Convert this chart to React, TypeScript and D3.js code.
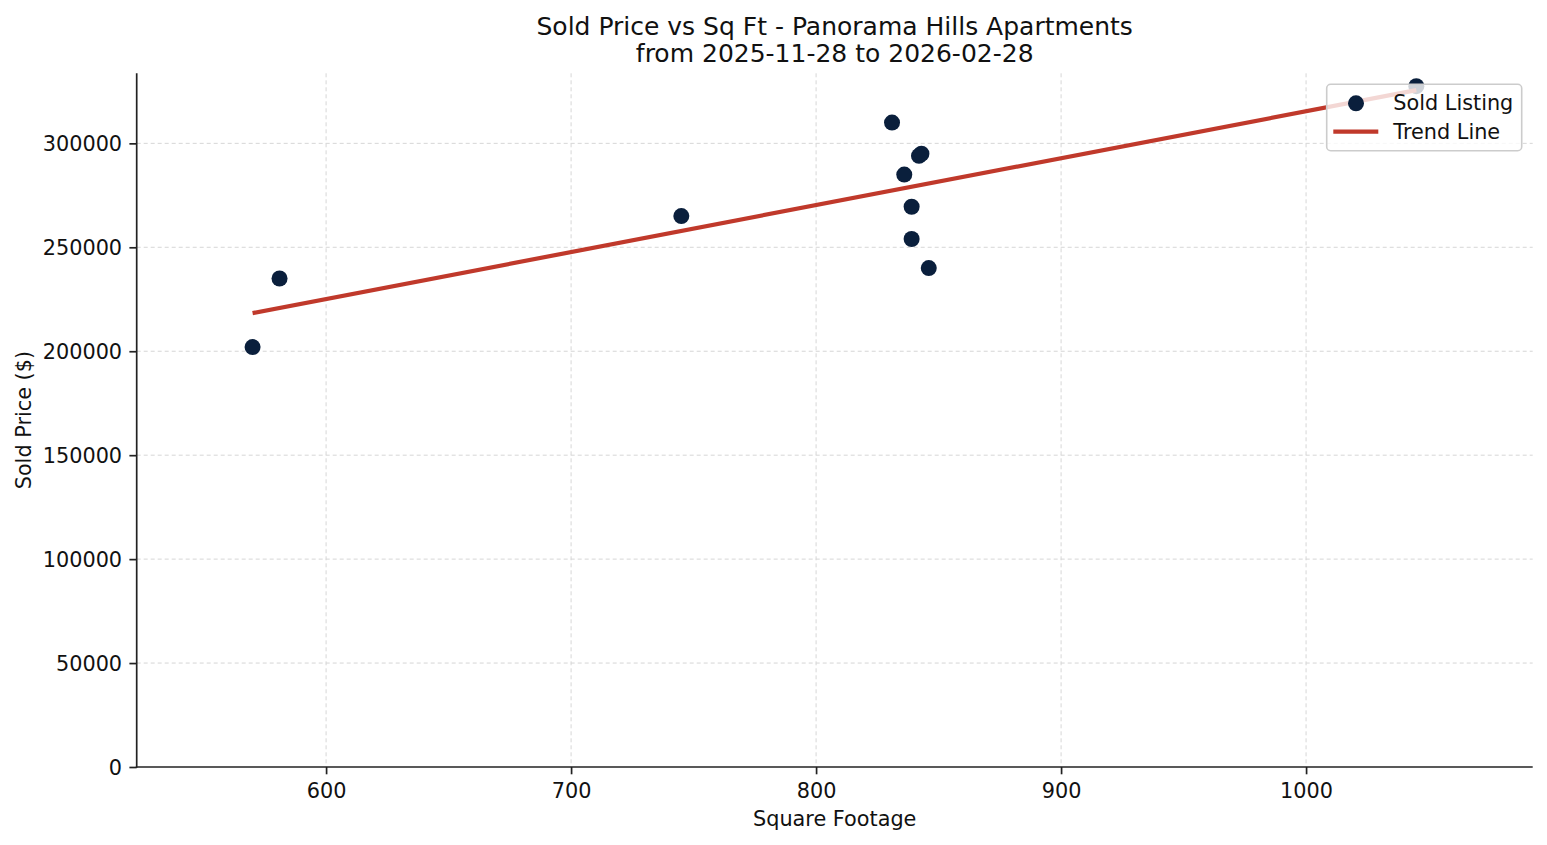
import React, { useEffect, useRef } from 'react';
import * as d3 from 'd3';

// sold listings
const sqft = [570, 581, 745, 831, 836, 839, 839, 842, 843, 846, 1045];
const price = [202000, 235000, 265000, 310000, 285000, 269500, 254000, 294000, 295000, 240000, 327500];

const xTicks = [600, 700, 800, 900, 1000];
const yTicks = [0, 50000, 100000, 150000, 200000, 250000, 300000];
const titleLines = ['Sold Price vs Sq Ft - Panorama Hills Apartments', 'from 2025-11-28 to 2026-02-28'];
const legendLabels = ['Sold Listing', 'Trend Line'];

const WIDTH = 1547;
const HEIGHT = 845;
const FONT = '"DejaVu Sans", sans-serif';
const FS = 20.8;
const NAVY = '#0a1f3c';
const RED = '#c0392b';

const App: React.FC = () => {
  const svgRef = useRef<SVGSVGElement>(null);

  useEffect(() => {
    if (!svgRef.current) return;
    const svg = d3.select(svgRef.current);
    svg.selectAll('*').remove();

    const left = 136.7, right = 1532.7, top = 73.3, bottom = 767;

    const x = d3.scaleLinear().domain([522.7, 1092.5]).range([left, right]);
    const y = d3.scaleLinear().domain([0, 333700]).range([bottom, top]);

    // grid
    const grid = svg.append('g');
    xTicks.forEach(t => {
      grid.append('line')
        .attr('x1', x(t)).attr('x2', x(t)).attr('y1', top).attr('y2', bottom)
        .attr('stroke', '#d6d6d6').attr('stroke-width', 1).attr('stroke-dasharray', '4,3');
    });
    yTicks.forEach(t => {
      if (t === 0) return;
      grid.append('line')
        .attr('x1', left).attr('x2', right).attr('y1', y(t)).attr('y2', y(t))
        .attr('stroke', '#d6d6d6').attr('stroke-width', 1).attr('stroke-dasharray', '4,3');
    });

    // points
    const pts = sqft.map((s, i) => ({ s, p: price[i] }));
    svg.append('g').selectAll('circle').data(pts).enter().append('circle')
      .attr('cx', d => x(d.s)).attr('cy', d => y(d.p)).attr('r', 8).attr('fill', NAVY);

    // least squares trend line
    const mx = d3.mean(sqft) as number;
    const my = d3.mean(price) as number;
    const slope = d3.sum(pts, d => (d.s - mx) * (d.p - my)) / d3.sum(pts, d => (d.s - mx) ** 2);
    const ext = d3.extent(sqft) as [number, number];
    const trend = ext.map(s => [s, my + slope * (s - mx)] as [number, number]);
    svg.append('path')
      .attr('d', d3.line<[number, number]>().x(d => x(d[0])).y(d => y(d[1]))(trend) as string)
      .attr('fill', 'none').attr('stroke', RED).attr('stroke-width', 4.2);

    // axes
    const xAxis = d3.axisBottom(x).tickValues(xTicks).tickSize(7.3).tickPadding(7.3).tickFormat(d3.format('d'));
    const yAxis = d3.axisLeft(y).tickValues(yTicks).tickSize(7.3).tickPadding(7.3).tickFormat(d3.format('d'));

    const gx = svg.append('g').attr('transform', `translate(0,${bottom})`).call(xAxis);
    const gy = svg.append('g').attr('transform', `translate(${left},0)`).call(yAxis);
    [gx, gy].forEach(g => {
      g.select('.domain').remove();
      g.selectAll('.tick line').attr('stroke', '#222').attr('stroke-width', 1.7);
      g.selectAll('.tick text').attr('fill', '#111').attr('font-family', FONT).attr('font-size', FS);
    });
    gx.selectAll('.tick text').attr('dy', null).attr('y', 30.5);
    gy.selectAll('.tick text').attr('dy', '0.36em');

    svg.append('line').attr('x1', left).attr('x2', left).attr('y1', top).attr('y2', bottom + 0.85)
      .attr('stroke', '#222').attr('stroke-width', 1.7);
    svg.append('line').attr('x1', left - 0.85).attr('x2', right).attr('y1', bottom).attr('y2', bottom)
      .attr('stroke', '#222').attr('stroke-width', 1.7);

    // labels
    svg.append('text').text('Square Footage')
      .attr('x', (left + right) / 2).attr('y', 826).attr('text-anchor', 'middle')
      .attr('font-family', FONT).attr('font-size', FS).attr('fill', '#111');
    svg.append('text').text('Sold Price ($)')
      .attr('transform', `translate(30.5,${(top + bottom) / 2}) rotate(-90)`).attr('text-anchor', 'middle')
      .attr('font-family', FONT).attr('font-size', FS).attr('fill', '#111');

    titleLines.forEach((t, i) => {
      svg.append('text').text(t)
        .attr('x', (left + right) / 2).attr('y', 34.7 + i * 27).attr('text-anchor', 'middle')
        .attr('font-family', FONT).attr('font-size', 25).attr('fill', '#111');
    });

    // legend
    const lg = svg.append('g');
    lg.append('rect')
      .attr('x', 1326.7).attr('y', 84.3).attr('width', 195).attr('height', 66.4).attr('rx', 4)
      .attr('fill', 'white').attr('fill-opacity', 0.8).attr('stroke', '#cccccc').attr('stroke-width', 1.6);
    lg.append('circle').attr('cx', 1356).attr('cy', 103.3).attr('r', 8).attr('fill', NAVY);
    lg.append('line').attr('x1', 1333.3).attr('x2', 1378.3).attr('y1', 131.7).attr('y2', 131.7)
      .attr('stroke', RED).attr('stroke-width', 4.2);
    legendLabels.forEach((l, i) => {
      lg.append('text').text(l)
        .attr('x', 1393.3).attr('y', 102.5 + i * 28.6).attr('dy', '0.36em')
        .attr('font-family', FONT).attr('font-size', FS).attr('fill', '#111');
    });
  }, []);

  return (
    <div style={{ position: 'absolute', left: 0, top: 0, background: 'white' }}>
      <svg ref={svgRef} width={WIDTH} height={HEIGHT} style={{ display: 'block' }} />
    </div>
  );
};

export default App;
